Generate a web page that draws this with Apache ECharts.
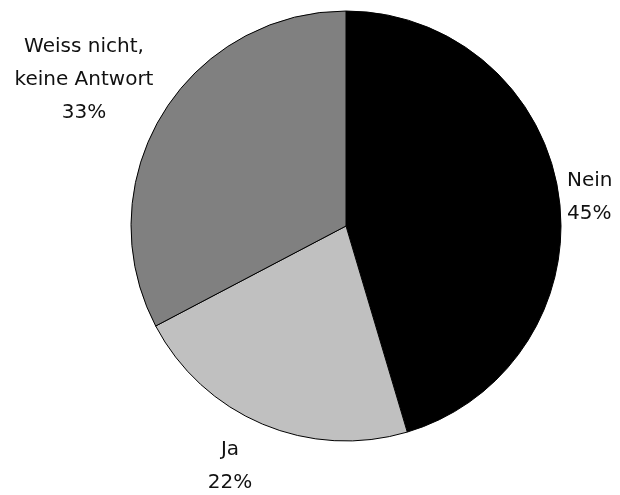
<!DOCTYPE html>
<html><head><meta charset="utf-8">
<script src="https://cdn.jsdelivr.net/npm/echarts@6/dist/echarts.min.js"></script>
<style>html,body{margin:0;padding:0;background:#fff}#c{width:620px;height:495px}</style>
</head><body><div id="c"></div>
<script>
const categories = ['Nein', 'Ja', 'Weiss nicht,\nkeine Antwort'];
const values = [45.4, 21.9, 32.7];
const colors = ['#000000', '#c0c0c0', '#808080'];
const labelPos = [
  {x: 567, y: 197, align: 'left'},
  {x: 230, y: 466, align: 'center'},
  {x: 84, y: 80, align: 'center'}
];
const chart = echarts.init(document.getElementById('c'), null, {renderer: 'canvas'});
chart.setOption({
  backgroundColor: '#ffffff',
  animation: false,
  series: [{
    type: 'pie',
    center: [346, 226],
    radius: 215,
    startAngle: 90,
    clockwise: true,
    data: categories.map((c, i) => ({name: c, value: values[i], itemStyle: {color: colors[i]}})),
    itemStyle: {borderColor: '#000', borderWidth: 1},
    label: {
      show: true,
      position: 'outside',
      alignTo: 'none',
      overflow: 'none',
      width: 300,
      formatter: p => p.name + '\n' + Math.round(p.percent) + '%',
      fontFamily: 'DejaVu Sans',
      fontSize: 20,
      lineHeight: 33,
      color: '#111',
      align: 'center'
    },
    labelLine: {show: false},
    labelLayout: function (params) {
      const lp = labelPos[params.dataIndex];
      return {x: lp.x, y: lp.y, align: lp.align, verticalAlign: 'middle', hideOverlap: false};
    },
    emphasis: {disabled: true}
  }]
});
</script></body></html>
